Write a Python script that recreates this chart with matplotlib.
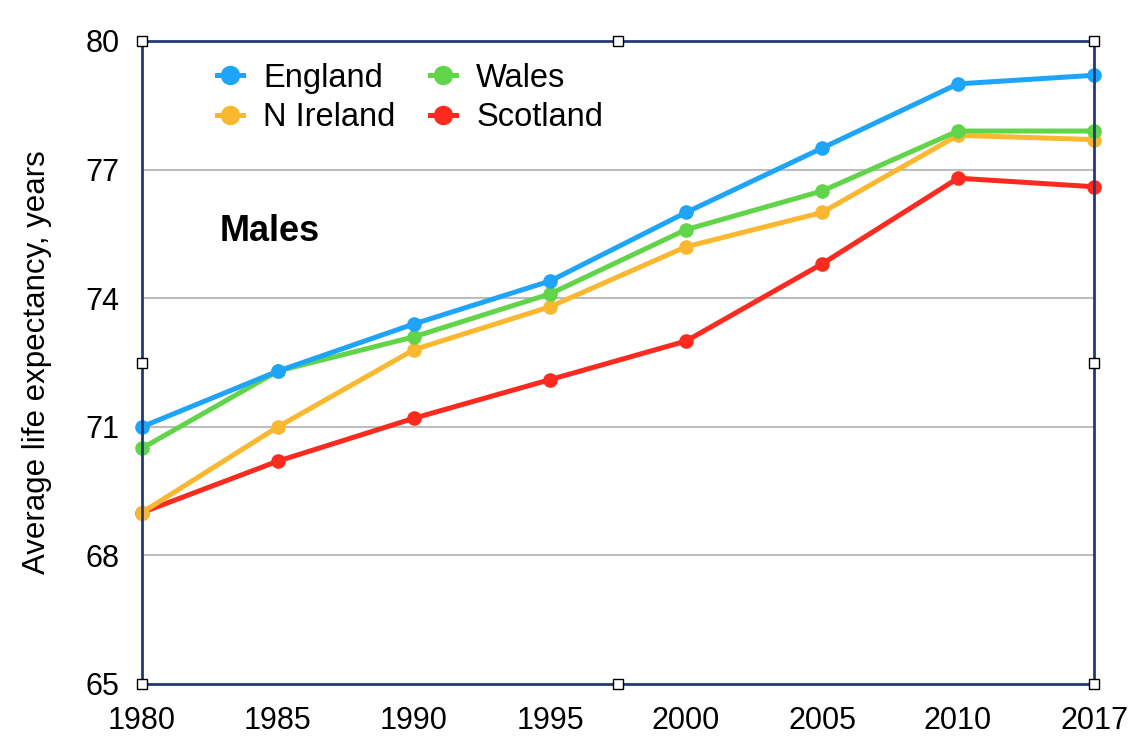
import matplotlib
matplotlib.use("Agg")
import matplotlib.pyplot as plt
from matplotlib.lines import Line2D

years = ["1980", "1985", "1990", "1995", "2000", "2005", "2010", "2017"]
england = [71.0, 72.3, 73.4, 74.4, 76.0, 77.5, 79.0, 79.2]
wales = [70.5, 72.3, 73.1, 74.1, 75.6, 76.5, 77.9, 77.9]
n_ireland = [69.0, 71.0, 72.8, 73.8, 75.2, 76.0, 77.8, 77.7]
scotland = [69.0, 70.2, 71.2, 72.1, 73.0, 74.8, 76.8, 76.6]
yticks = [65, 68, 71, 74, 77, 80]

plt.rcParams['font.family'] = ['Liberation Sans', 'DejaVu Sans']

fig = plt.figure(figsize=(11.48, 7.56), dpi=100)
ax = fig.add_axes([142/1148, 1-684/756, (1094-142)/1148, (684-41)/756])

x = list(range(len(years)))
series = [
    ("Scotland", scotland, "#FC2A1F", 2),
    ("N Ireland", n_ireland, "#F9B82F", 3),
    ("Wales", wales, "#62D44A", 4),
    ("England", england, "#1EA5F9", 5),
]
for name, vals, col, z in series:
    ax.plot(x, vals, color=col, lw=3.6, marker='o', ms=9.5, zorder=z, clip_on=False)

ax.set_xlim(0, len(years)-1)
ax.set_ylim(65, 80)
ax.set_yticks(yticks)
ax.set_xticks(x)
ax.set_xticklabels(years)
ax.tick_params(axis='both', length=0, labelsize=22)
ax.tick_params(axis='x', pad=16)
ax.tick_params(axis='y', pad=16)
ax.grid(axis='y', color='#BDBDBD', lw=1.5, zorder=0)
ax.set_axisbelow(True)
for s in ax.spines.values():
    s.set_color('#233A78')
    s.set_linewidth(2)
    s.set_zorder(6)

ax.set_ylabel("Average life expectancy, years", fontsize=22.5, labelpad=24)

ax.text(0.082, 0.703, "Males", transform=ax.transAxes, fontsize=26, fontweight='bold', va='center')

handles = {name: Line2D([0], [0], color=col, lw=3.6, marker='o', ms=13) for name, vals, col, z in series}
order = ["England", "N Ireland", "Wales", "Scotland"]
leg = ax.legend([handles[n] for n in order], order, loc='upper left', bbox_to_anchor=(0.058, 0.997),
                ncol=2, frameon=False, fontsize=23.5, handlelength=0.8, handletextpad=0.62,
                columnspacing=1.05, labelspacing=0.26, borderaxespad=0.2)
leg.set_zorder(7)

hx = [0, 0.5, 1, 0, 1, 0, 0.5, 1]
hy = [1, 1, 1, 0.5, 0.5, 0, 0, 0]
ax.plot(hx, hy, ls='none', marker='s', ms=7, mfc='white', mec='black', mew=1,
        transform=ax.transAxes, clip_on=False, zorder=10)

fig.savefig("out.png", dpi=100)
